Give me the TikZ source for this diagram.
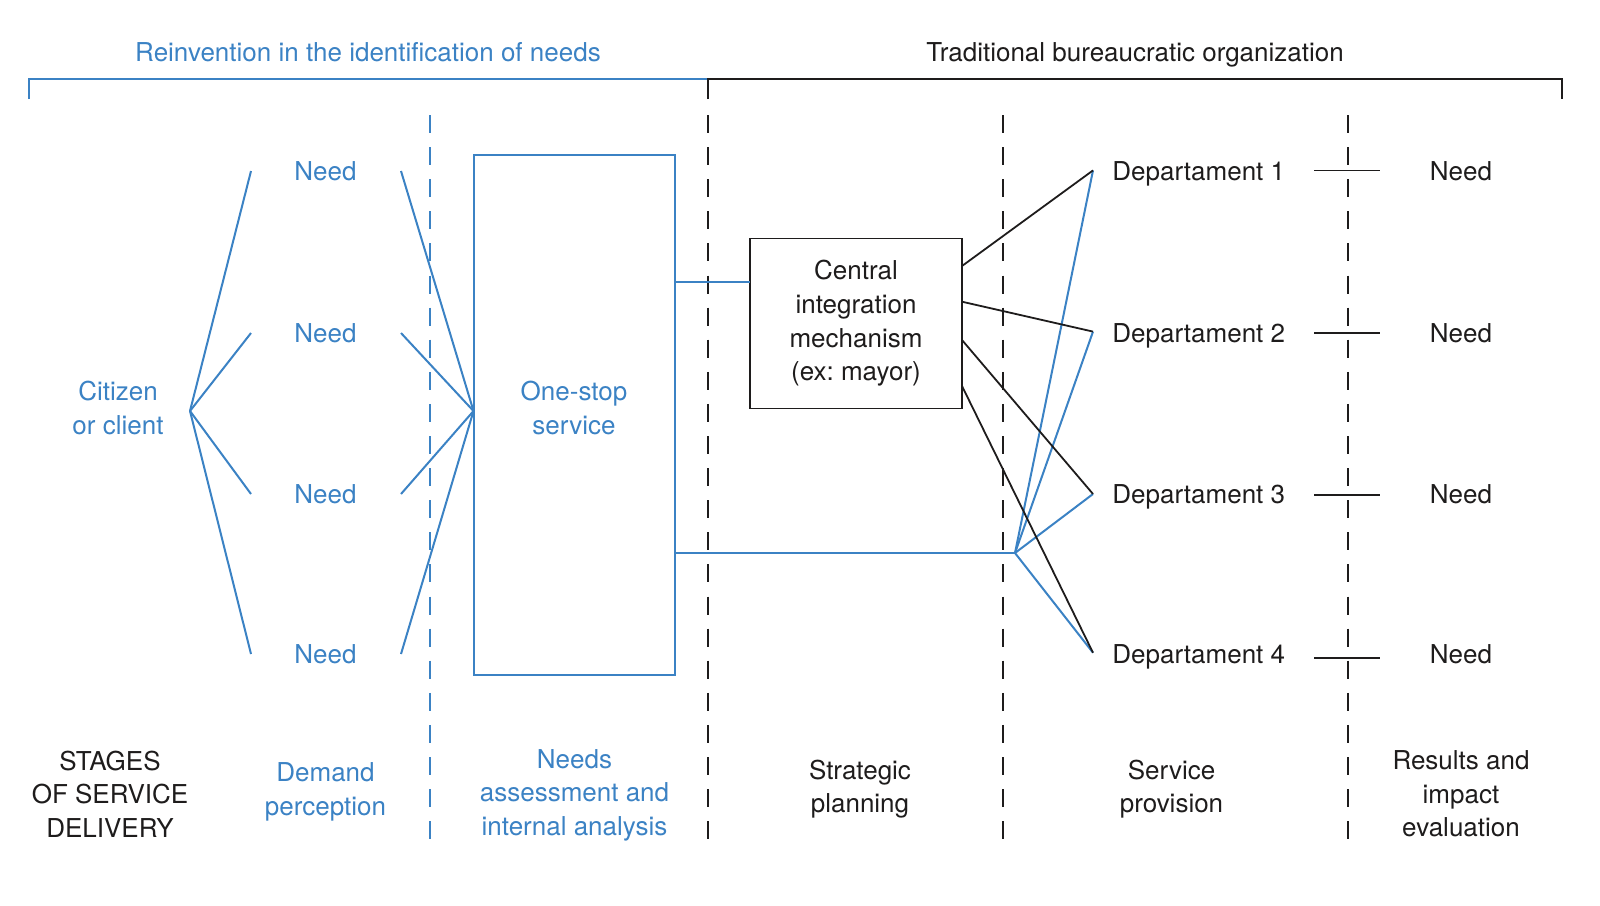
\documentclass[tikz,border=0pt]{standalone}
\usepackage{fontspec}
\setmainfont{TeX Gyre Heros}
\definecolor{bl}{RGB}{59,130,196}
\definecolor{ink}{RGB}{30,28,28}
\begin{document}
\frenchspacing
\begin{tikzpicture}[x=0.5pt,y=-0.5pt,
  every node/.style={font=\fontsize{13}{16.8}\selectfont, inner sep=0pt, align=center},
  btxt/.style={text=bl},
  ktxt/.style={text=ink},
  bline/.style={draw=bl, line width=1pt},
  kline/.style={draw=ink, line width=0.9pt},
  bdash/.style={draw=bl, line width=1pt, dash pattern=on 9pt off 7.05pt},
  kdash/.style={draw=ink, line width=1pt, dash pattern=on 9pt off 7.05pt},
]
\useasboundingbox (0,0) rectangle (1600,905);

% top bracket
\coordinate (bl0) at (28.6,99);
\coordinate (bl1) at (28.6,78.6);
\coordinate (bm) at (708,78.6);
\coordinate (bm0) at (708,99);
\coordinate (br1) at (1562,78.6);
\coordinate (br0) at (1562,99);
\draw[bline] (bl0) -- (bl1) -- (bm);
\draw[kline] (bm0) -- (bm) -- (br1) -- (br0);

\node[btxt, anchor=base] (t1) at (368,61.5) {Reinvention in the identification of needs};
\node[ktxt, anchor=base] (t2) at (1135,61.5) {Traditional bureaucratic organization};

% dashed separators
\coordinate (d1t) at (429.6,115); \coordinate (d1b) at (429.6,839);
\coordinate (d2t) at (708,115);   \coordinate (d2b) at (708,839);
\coordinate (d3t) at (1003,115);  \coordinate (d3b) at (1003,839);
\coordinate (d4t) at (1348,115);  \coordinate (d4b) at (1348,839);
\draw[bdash] (d1t) -- (d1b);
\draw[kdash] (d2t) -- (d2b);
\draw[kdash] (d3t) -- (d3b);
\draw[kdash] (d4t) -- (d4b);

% citizen and needs
\node[btxt] (cit) at (118,408) {Citizen\\or client};
\coordinate (fan) at (190,411);
\coordinate (join) at (473.5,411);
\foreach \i/\y in {1/171,2/333,3/494,4/654}{
  \node[btxt] (need\i) at (325.5,\y) {Need};
  \coordinate (nl\i) at (251,\y);
  \coordinate (nr\i) at (401,\y);
  \draw[bline] (fan) -- (nl\i);
  \draw[bline] (nr\i) -- (join);
}

% one-stop service
\node[draw=bl, line width=1pt, minimum width=100.5pt, minimum height=260pt] (os) at (574,415.25) {};
\node[btxt] (ost) at (574,408) {One-stop\\service};

% central integration mechanism
\node[draw=ink, line width=0.9pt, minimum width=106pt, minimum height=85pt, text=ink] (cim) at (856,323.5)
  {Central\\integration\\mechanism\\(ex: mayor)};

\coordinate (osA) at (674.5,281.6);
\coordinate (cimA) at (750,281.6);
\draw[bline] (osA) -- (cimA);
\coordinate (osB) at (674.5,553);
\coordinate (hub) at (1015,553);
\draw[bline] (osB) -- (hub);

% departments
\foreach \i/\y/\e/\s/\l in {1/171/170.4/266/170.4, 2/333/331.6/301.7/332.7, 3/494/494/340/495, 4/654/652.7/386/658}{
  \node[ktxt, anchor=base west] (dep\i) at (1112,\y+9.5) {Departament \i};
  \coordinate (de\i) at (1093,\e);
  \coordinate (cs\i) at (962,\s);
  \draw[bline] (hub) -- (de\i);
  \draw[kline] (cs\i) -- (de\i);
  \coordinate (sa\i) at (1314,\l);
  \coordinate (sb\i) at (1380,\l);
  \draw[kline] (sa\i) -- (sb\i);
  \node[ktxt] (nrt\i) at (1461,\y) {Need};
}

% bottom stage labels
\node[ktxt] (s1) at (110,794) {STAGES\\OF SERVICE\\DELIVERY};
\node[btxt] (s2) at (325.5,792) {Demand\\perception};
\node[btxt] (s3) at (574.5,795) {Needs\\assessment and\\internal analysis};
\node[ktxt] (s4) at (860,789) {Strategic\\planning};
\node[ktxt] (s5) at (1171.5,789) {Service\\provision};
\node[ktxt] (s6) at (1461,794) {Results and\\impact\\evaluation};
\end{tikzpicture}
\end{document}
